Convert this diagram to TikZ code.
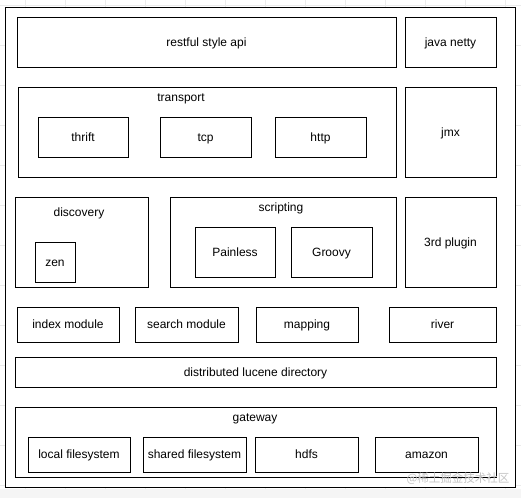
\documentclass[tikz,border=0pt]{standalone}
\usepackage{fontspec}
\setmainfont{Liberation Sans}
\newfontfamily\cjkfont{Noto Sans CJK SC}
\definecolor{gridc}{HTML}{EBEBEB}
\definecolor{wmark}{HTML}{C4C4C4}
\begin{document}
\begin{tikzpicture}[x=1pt,y=-1pt,
  box/.style={draw=black,line width=1pt,inner sep=0pt,outer sep=0pt,text height=10pt,text depth=2pt,font=\fontsize{12}{14}\selectfont},
  lbl/.style={inner sep=0pt,text height=10pt,text depth=2pt,font=\fontsize{12}{14}\selectfont}]
\useasboundingbox (0,0) rectangle (521,498);
% faint background grid
\foreach \gx in {25,65,...,505} \draw[gridc,line width=0.8pt] (\gx,0) -- (\gx,498);
\foreach \gy in {5,45,...,485} \draw[gridc,line width=0.8pt] (0,\gy) -- (521,\gy);
\fill[black!4] (0,489) rectangle (521,498);
% outer frame
\node[box,fill=white,minimum width=510pt,minimum height=480pt] (outer) at (260,247) {};
% row 1
\node[box,minimum width=379pt,minimum height=50pt] (api) at (206.5,42) {restful style api};
\node[box,minimum width=91pt,minimum height=50pt] (netty) at (450.5,42) {java netty};
% row 2
\node[box,minimum width=378pt,minimum height=90pt] (transport) at (207,132) {};
\node[lbl] (transportlbl) at (181,97) {transport};
\node[box,minimum width=90pt,minimum height=40pt] (thrift) at (83,137) {thrift};
\node[box,minimum width=91pt,minimum height=40pt] (tcp) at (205.5,137) {tcp};
\node[box,minimum width=91pt,minimum height=40pt] (http) at (320.5,137) {http};
\node[box,minimum width=91pt,minimum height=90pt] (jmx) at (450.5,132) {jmx};
% row 3
\node[box,minimum width=133pt,minimum height=90pt] (discovery) at (81.5,242) {};
\node[lbl] (discoverylbl) at (79,212) {discovery};
\node[box,minimum width=40pt,minimum height=40pt] (zen) at (55,262) {zen};
\node[box,minimum width=226pt,minimum height=90pt] (scripting) at (283,242) {};
\node[lbl] (scriptinglbl) at (281,207) {scripting};
\node[box,minimum width=80pt,minimum height=50pt] (painless) at (235,252) {Painless};
\node[box,minimum width=81pt,minimum height=50pt] (groovy) at (331.5,252) {Groovy};
\node[box,minimum width=91pt,minimum height=90pt] (plugin) at (450.5,242) {};
\node[lbl] (pluginlbl) at (450.5,242) {3rd plugin};
% row 4
\node[box,minimum width=102pt,minimum height=35pt] (index) at (68,324.5) {index module};
\node[box,minimum width=103pt,minimum height=35pt] (search) at (186.5,324.5) {search module};
\node[box,minimum width=102pt,minimum height=35pt] (mapping) at (307,324.5) {mapping};
\node[box,minimum width=107pt,minimum height=35pt] (river) at (442.5,324.5) {river};
% row 5
\node[box,minimum width=481pt,minimum height=30pt] (lucene) at (255.5,372) {distributed lucene directory};
% row 6
\node[box,minimum width=481pt,minimum height=70pt] (gateway) at (255.5,442) {};
\node[lbl] (gatewaylbl) at (255,417) {gateway};
\node[box,minimum width=102pt,minimum height=35pt] (localfs) at (79,454.5) {local filesystem};
\node[box,minimum width=103pt,minimum height=35pt] (sharedfs) at (194.5,454.5) {shared filesystem};
\node[box,minimum width=103pt,minimum height=35pt] (hdfs) at (306.5,454.5) {hdfs};
\node[box,minimum width=103pt,minimum height=35pt] (amazon) at (426.5,454.5) {amazon};
% watermark
\node[inner sep=0pt,text=wmark,font=\cjkfont\fontsize{11.5}{13}\selectfont] (wm) at (458,479) {@稀土掘金技术社区};
\end{tikzpicture}
\end{document}
